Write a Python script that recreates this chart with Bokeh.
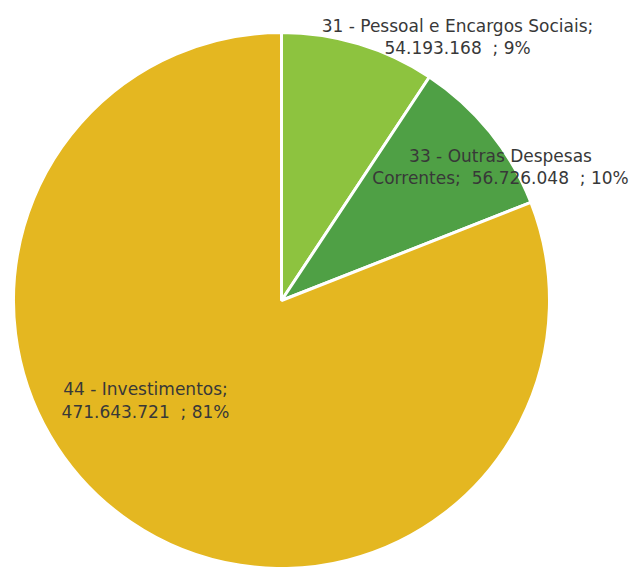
import math
from bokeh.plotting import figure
from bokeh.models import Range1d, ColumnDataSource
from bokeh.core.properties import value
from bokeh.embed import file_html
from bokeh.resources import INLINE

categories = ["31 - Pessoal e Encargos Sociais", "33 - Outras Despesas Correntes", "44 - Investimentos"]
values = [54193168, 56726048, 471643721]
percents = [9, 10, 81]
colors = ["#8DC33F", "#4FA045", "#E4B721"]
NB = "\u00a0"
label_lines = [
    ["31 - Pessoal e Encargos Sociais;", "54.193.168" + NB + " ; 9%"],
    ["33 - Outras Despesas", "Correntes;" + NB + " 56.726.048" + NB + " ; 10%"],
    ["44 - Investimentos;", "471.643.721" + NB + " ; 81%"],
]

W, H = 633, 567
cx, cy, r = 281, 267, 268
label_pos = [(457, 542, 22), (500, 412, 22), (145, 179, 23)]

total = sum(values)
starts, ends = [], []
cum = 0.0
for v in values:
    starts.append(math.pi / 2 - 2 * math.pi * cum / total)
    cum += v
    ends.append(math.pi / 2 - 2 * math.pi * cum / total)

src = ColumnDataSource(dict(start=starts, end=ends, color=colors, cat=categories))

p = figure(width=W, height=H, x_range=Range1d(0, W), y_range=Range1d(0, H),
           output_backend="svg", toolbar_location=None, min_border=0)
p.axis.visible = False
p.grid.visible = False
p.outline_line_color = None
p.background_fill_color = "white"

p.wedge(x=cx, y=cy, radius=r, start_angle="start", end_angle="end", direction="clock",
        fill_color="color", line_color="white", line_width=3, source=src)

tx, ty, tt = [], [], []
for (x, y, dy), lines in zip(label_pos, label_lines):
    for i, ln in enumerate(lines):
        tx.append(x)
        ty.append(y - i * dy)
        tt.append(ln)
p.text(x=tx, y=ty, text=tt, text_align="center", text_baseline="middle",
       text_font=value("DejaVu Sans"), text_font_size="17px", text_color="#383838")

open("out.html", "w").write(file_html(p, INLINE))
